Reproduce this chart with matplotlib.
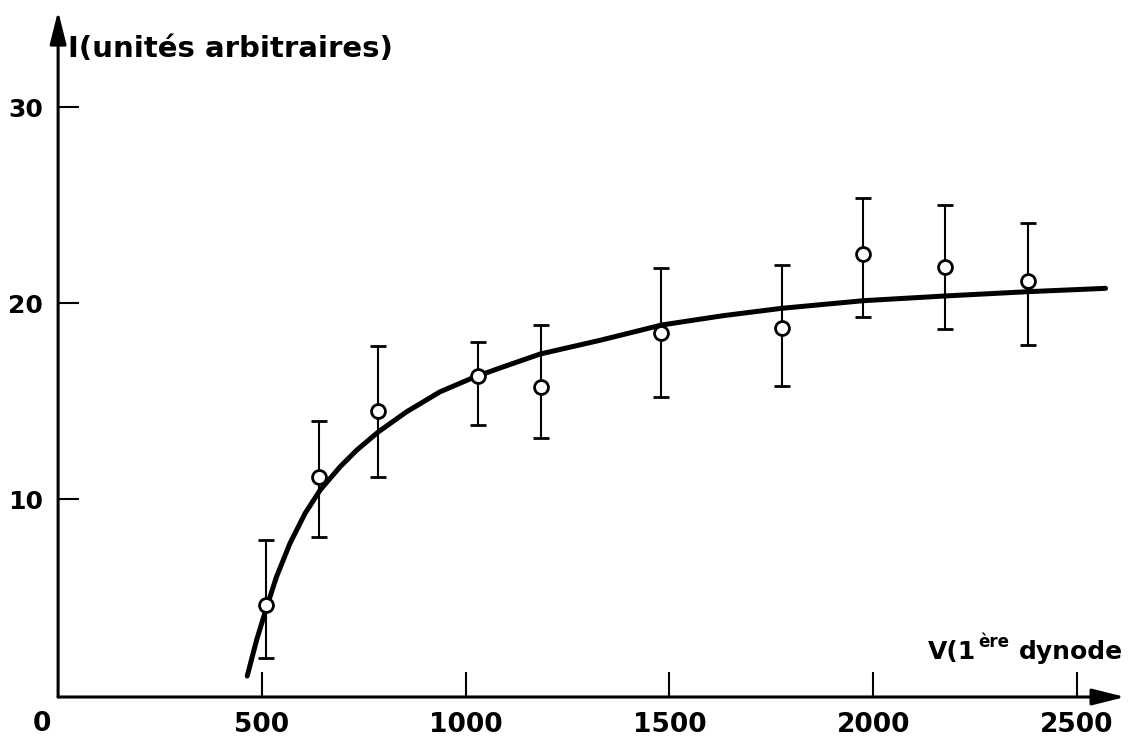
import numpy as np
import matplotlib
matplotlib.use("Agg")
import matplotlib.pyplot as plt

plt.rcParams['font.family'] = ['DejaVu Sans']
plt.rcParams['font.weight'] = 'bold'

# mesures (V en volts, I en unites arbitraires)
v_mes = np.array([510, 640, 785, 1030, 1185, 1480, 1775, 1975, 2175, 2380])
i_mes = np.array([4.6, 11.1, 14.5, 16.3, 15.7, 18.45, 18.75, 22.5, 21.85, 21.1])
i_haut = np.array([7.9, 14.0, 17.8, 18.0, 18.9, 21.8, 21.95, 25.35, 25.0, 24.1])
i_bas = np.array([1.9, 8.05, 11.1, 13.8, 13.1, 15.2, 15.75, 19.3, 18.7, 17.85])

# courbe tracee a la main (relevee point par point)
v_courbe = [464, 487, 512, 536, 569, 606, 643, 692, 733, 786, 855, 937, 1019, 1082,
            1183, 1330, 1481, 1630, 1775, 1976, 2176, 2380, 2570]
i_courbe = [0.97, 2.8, 4.5, 6.04, 7.74, 9.27, 10.46, 11.65, 12.5, 13.43, 14.45, 15.47, 16.2, 16.67,
            17.4, 18.1, 18.88, 19.35, 19.73, 20.12, 20.36, 20.58, 20.75]

xticks = [500, 1000, 1500, 2000, 2500]
yticks = [10, 20, 30]

W, H = 1136, 745
fig = plt.figure(figsize=(W / 100, H / 100), dpi=100)
ax = fig.add_axes([58.1 / W, (H - 697) / H, 1067 / W, 686 / H])
ax.set_xlim(0, 2618)
ax.set_ylim(-0.1, 34.9)

for s in ax.spines.values():
    s.set_visible(False)

fleche = dict(arrowstyle='-|>,head_length=1.0,head_width=0.25', lw=2.2,
              color='black', shrinkA=0, shrinkB=0, mutation_scale=20)
ax.annotate('', xy=(2618, -0.1), xytext=(0, -0.1), arrowprops=fleche, annotation_clip=False)
ax.annotate('', xy=(0, 34.9), xytext=(0, -0.1), arrowprops=fleche, annotation_clip=False)

ax.plot(v_courbe, i_courbe, color='black', lw=3.6, solid_capstyle='round',
        solid_joinstyle='round', zorder=2)
ax.errorbar(v_mes, i_mes, yerr=[i_mes - i_bas, i_haut - i_mes], fmt='o',
            mfc='white', mec='black', ms=10, mew=2, ecolor='black',
            elinewidth=1.5, capsize=5.5, capthick=2, zorder=3)

ax.set_xticks(xticks)
ax.set_yticks(yticks)
ax.tick_params(axis='x', direction='in', length=18, width=1.5, pad=11, labelsize=19)
ax.tick_params(axis='y', direction='in', length=15, width=1.5, pad=11, labelsize=18)

ax.annotate('0', xy=(0, -0.1), xytext=(-16, -14), textcoords='offset pixels',
            ha='center', va='top', fontsize=19, annotation_clip=False)

fig.text(68 / W, 1 - 57 / H, 'I(unités arbitraires)', fontsize=21, va='baseline')
t1 = fig.text(928 / W, 1 - 659 / H, 'V(1', fontsize=18, va='baseline')
t2 = ax.annotate('ère', xy=(1.0, 0.55), xycoords=t1, xytext=(2, 0),
                 textcoords='offset pixels', fontsize=12, va='bottom', ha='left')
ax.annotate('dynode', xy=(1.0, 0.0), xycoords=(t2, t1), xytext=(10, 0),
            textcoords='offset pixels', fontsize=18, va='bottom', ha='left',
            annotation_clip=False)

fig.savefig('out.png', dpi=100)
